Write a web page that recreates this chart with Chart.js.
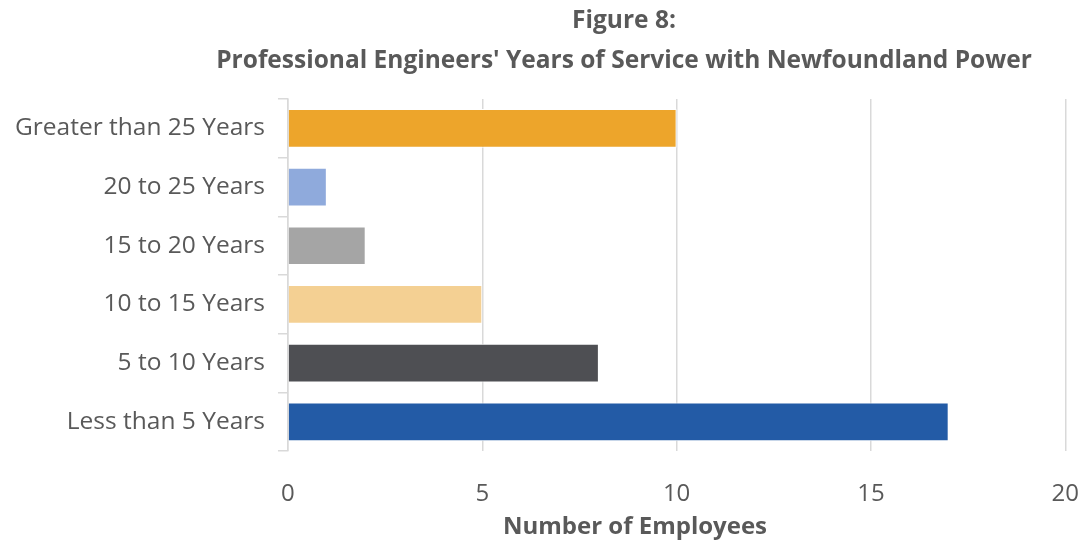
<!DOCTYPE html>
<html lang="en">
  <head>
    <meta charset="UTF-8" />
    <title>Professional Engineers' Years of Service</title>
    <script src="https://cdn.jsdelivr.net/npm/chart.js"></script>
    <style>
      html, body { margin: 0; padding: 0; background: #ffffff; }
      #wrap { position: relative; width: 1081px; height: 542px; }
    </style>
  </head>
  <body>
    <div id="wrap"><canvas id="serviceChart"></canvas></div>
    <script>
      const categories = [
        "Greater than 25 Years",
        "20 to 25 Years",
        "15 to 20 Years",
        "10 to 15 Years",
        "5 to 10 Years",
        "Less than 5 Years",
      ];
      const employees = [10, 1, 2, 5, 8, 17];
      const barColors = ["#EDA52B", "#8FAADC", "#A5A5A5", "#F4D093", "#4E4F53", "#235BA6"];
      const xTicks = [0, 5, 10, 15, 20];

      const titleLines = ["Figure 8:", "Professional Engineers' Years of Service with Newfoundland Power"];
      const xTitle = "Number of Employees";

      const FONT = "'Open Sans', sans-serif";

      // title and axis caption are placed by hand
      const captions = {
        id: "captions",
        afterDraw(chart) {
          const ctx = chart.ctx;
          ctx.save();
          ctx.fillStyle = "#595959";
          ctx.textAlign = "center";
          ctx.textBaseline = "middle";
          ctx.font = "bold 24.5px " + FONT;
          ctx.fillText(titleLines[0], 624, 21);
          ctx.fillText(titleLines[1], 624, 61);
          ctx.font = "bold 24px " + FONT;
          ctx.fillText(xTitle, 635, 527);
          ctx.restore();
        },
      };

      new Chart(document.getElementById("serviceChart"), {
        type: "bar",
        data: {
          labels: categories,
          datasets: [
            {
              data: employees,
              backgroundColor: barColors,
              borderColor: "#ffffff",
              borderWidth: 1,
              barPercentage: 0.66,
              categoryPercentage: 1.0,
            },
          ],
        },
        options: {
          indexAxis: "y",
          responsive: true,
          maintainAspectRatio: false,
          animation: false,
          layout: { padding: { top: 99, right: 0, bottom: 31, left: 2 } },
          plugins: {
            legend: { display: false },
            tooltip: { enabled: false },
          },
          scales: {
            x: {
              min: 0,
              max: 20,
              afterBuildTicks: (axis) => {
                axis.ticks = xTicks.map((v) => ({ value: v }));
              },
              // invisible tick marks give the labels their drop below the plot
              grid: {
                color: "#D9D9D9",
                lineWidth: 1.5,
                drawTicks: true,
                tickLength: 27,
                tickColor: "rgba(0,0,0,0)",
              },
              border: { display: false },
              ticks: {
                color: "#595959",
                font: { family: FONT, size: 24 },
                padding: 2,
              },
            },
            y: {
              grid: {
                offset: true,
                drawOnChartArea: false,
                drawTicks: true,
                tickLength: 10,
                color: "#D9D9D9",
                lineWidth: 1.5,
              },
              border: { display: true, color: "#D9D9D9", width: 1.5 },
              ticks: {
                color: "#595959",
                font: { family: FONT, size: 24.5 },
                padding: 13,
              },
            },
          },
        },
        plugins: [captions],
      });
    </script>
  </body>
</html>
